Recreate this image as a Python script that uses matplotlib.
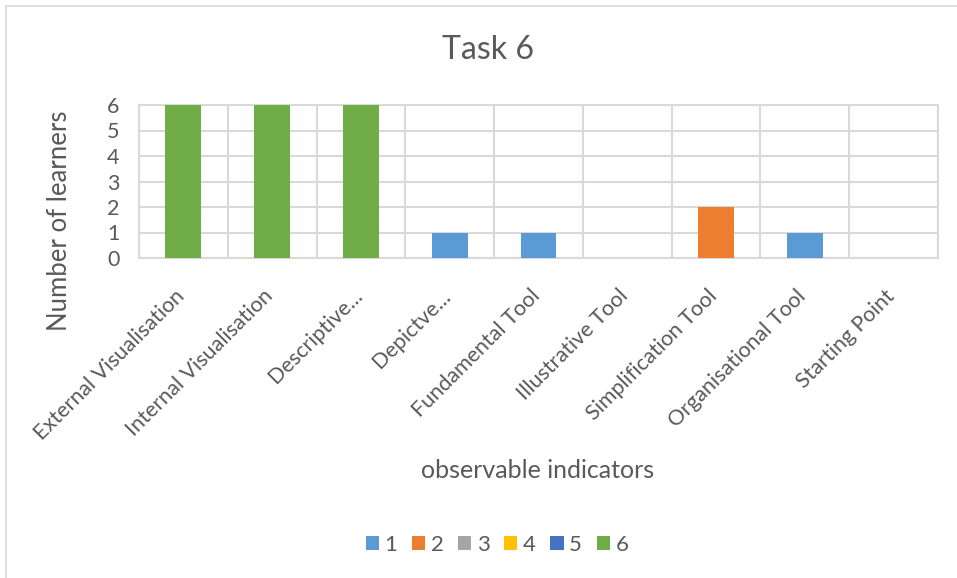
import numpy as np
import matplotlib
matplotlib.use("Agg")
import matplotlib.pyplot as plt
import matplotlib.transforms as mtransforms
from matplotlib.patches import Rectangle

plt.rcParams['font.family'] = ['Lato', 'DejaVu Sans']

# === Data ===
categories = ["External Visualisation", "Internal Visualisation", "Descriptive...",
              "Depictve...", "Fundamental Tool", "Illustrative Tool",
              "Simplification Tool", "Organisational Tool", "Starting Point"]
series_names = ["1", "2", "3", "4", "5", "6"]
s1 = [0, 0, 0, 1, 1, 0, 0, 1, 0]
s2 = [0, 0, 0, 0, 0, 0, 2, 0, 0]
s3 = [0, 0, 0, 0, 0, 0, 0, 0, 0]
s4 = [0, 0, 0, 0, 0, 0, 0, 0, 0]
s5 = [0, 0, 0, 0, 0, 0, 0, 0, 0]
s6 = [6, 6, 6, 0, 0, 0, 0, 0, 0]
colors = ["#5B9BD5", "#ED7D31", "#A5A5A5", "#FFC000", "#4472C4", "#70AD47"]

text_color = "#595959"
grid_color = "#D9D9D9"

fig = plt.figure(figsize=(9.57, 5.78), dpi=100)
ax = fig.add_axes([139 / 957, 1 - 258 / 578, (938 - 139) / 957, (258 - 105) / 578])

# outer chart border (left and top visible)
fig.patches.append(Rectangle((6 / 957, -0.1), 1.2, 1 - 6 / 578 + 0.1,
                             transform=fig.transFigure, fill=False,
                             edgecolor="#D9D9D9", linewidth=1.2))

x = np.arange(len(categories))
bottom = np.zeros(len(categories))
handles = []
for name, vals, c in zip(series_names, [s1, s2, s3, s4, s5, s6], colors):
    vals = np.array(vals, dtype=float)
    b = ax.bar(x, vals, width=0.405, bottom=bottom, color=c, label=name, zorder=3)
    handles.append(b)
    bottom += vals

ax.set_xlim(-0.5, len(categories) - 0.5)
ax.set_ylim(0, 6)
ax.set_yticks(range(0, 7))
ax.set_xticks(x)
ax.set_xticks(np.arange(-0.5, len(categories)), minor=True)
ax.set_xticklabels(categories, rotation=45, ha="right", va="top",
                   rotation_mode="anchor", fontsize=15.5, color=text_color)
ax.tick_params(axis="y", labelsize=15.5, labelcolor=text_color, length=0, pad=14)
ax.tick_params(axis="x", which="both", length=0, pad=20)

# nudge category labels left a bit
offset = mtransforms.ScaledTranslation(-9 / 100, 0, fig.dpi_scale_trans)
for lbl in ax.get_xticklabels():
    lbl.set_transform(lbl.get_transform() + offset)

ax.grid(axis="y", color=grid_color, linewidth=1.5, zorder=0)
ax.grid(axis="x", which="minor", color=grid_color, linewidth=1.5, zorder=0)
ax.grid(axis="x", which="major", visible=False)
for sp in ax.spines.values():
    sp.set_color(grid_color)
    sp.set_linewidth(1.5)

fig.text(488 / 957, 1 - 50 / 578, "Task 6", ha="center", va="center",
         fontsize=23, color=text_color)
fig.text(60 / 957, 1 - 221 / 578, "Number of learners", ha="center", va="center",
         rotation=90, fontsize=18.5, color=text_color)
fig.text(538 / 957, 1 - 471 / 578, "observable indicators", ha="center", va="center",
         fontsize=18, color=text_color)

fig.legend(handles=handles, labels=series_names, loc="center", ncol=6,
           bbox_to_anchor=(497 / 957, 1 - 545 / 578), frameon=False,
           fontsize=16, labelcolor=text_color, handlelength=0.6, handleheight=0.6,
           handletextpad=0.25, columnspacing=0.65)

fig.savefig("out.png", dpi=100)
